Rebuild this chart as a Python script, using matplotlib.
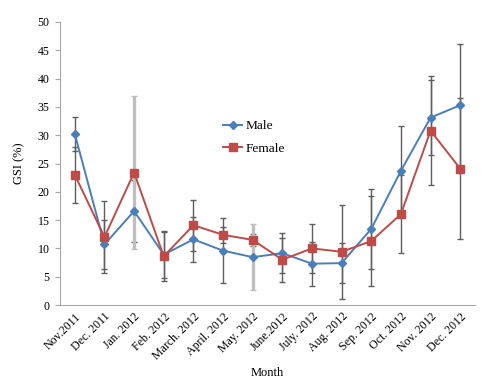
import matplotlib
matplotlib.use('Agg')
import matplotlib.pyplot as plt
import numpy as np

months = ['Nov.2011', 'Dec. 2011', 'Jan. 2012', 'Feb. 2012', 'March. 2012',
          'April. 2012', 'May. 2012', 'June.2012', 'July. 2012', 'Aug. 2012',
          'Sep. 2012', 'Oct. 2012', 'Nov. 2012', 'Dec. 2012']
male = [30.2, 10.7, 16.6, 8.9, 11.6, 9.6, 8.45, 9.15, 7.3, 7.4, 13.45, 23.7, 33.1, 35.3]
female = [23.0, 12.0, 23.4, 8.6, 14.1, 12.4, 11.5, 8.0, 10.0, 9.4, 11.3, 16.05, 30.8, 24.1]
male_err = [3.0, 4.3, 5.5, 4.1, 4.0, 5.8, 5.8, 3.55, 3.9, 3.6, 7.05, 7.9, 6.6, 10.9]
female_err = [5.0, 6.35, 13.5, 4.3, 4.5, 1.4, 1.0, 3.9, 4.35, 8.3, 7.9, 6.9, 9.6, 12.4]

# style: which error bars appear in light grey
male_light = {6}
female_light = {2}

DARK = '#5e5e5e'
LIGHT = '#bfbfbf'
BLUE = '#4a7ebb'
RED = '#be4b48'

plt.rcParams['font.family'] = ['Liberation Serif', 'DejaVu Serif']

fig = plt.figure(figsize=(4.84, 3.85), dpi=100)
ax = fig.add_axes([60 / 484, 1 - 305 / 385, 415 / 484, 283 / 385])

x = np.arange(len(months))

def draw_err(vals, errs, light_set):
    for i, (v, e) in enumerate(zip(vals, errs)):
        light = i in light_set
        ax.errorbar(x[i], v, yerr=e, fmt='none',
                    ecolor=LIGHT if light else DARK,
                    elinewidth=2.4 if light else 1.0,
                    capsize=2.4, capthick=1.0, zorder=1.5 if light else 1)

draw_err(male, male_err, male_light)
draw_err(female, female_err, female_light)

ax.plot(x, male, color=BLUE, lw=1.4, marker='D', markersize=4.0,
        markerfacecolor=BLUE, markeredgecolor=BLUE, label='Male', zorder=3)
ax.plot(x, female, color=RED, lw=1.4, marker='s', markersize=5.2,
        markerfacecolor=RED, markeredgecolor=RED, label='Female', zorder=3)

ax.set_xlim(-0.5, len(months) - 0.5)
ax.set_ylim(0, 50)
ax.set_yticks(np.arange(0, 51, 5))
ax.set_xticks(x)
ax.set_xticklabels(months, rotation=45, ha='right', rotation_mode='anchor', fontsize=8.6)
ax.tick_params(axis='y', labelsize=8.6, length=3.5, width=0.8, color='#a6a6a6', pad=4)
ax.tick_params(axis='x', length=0, pad=4)

for s in ['top', 'right']:
    ax.spines[s].set_visible(False)
for s in ['left', 'bottom']:
    ax.spines[s].set_color('#a6a6a6')
    ax.spines[s].set_linewidth(0.8)

ax.set_xlabel('Month', fontsize=9, labelpad=3.5)
ax.set_ylabel('GSI (%)', fontsize=9, labelpad=9)

leg = ax.legend(loc='upper left', bbox_to_anchor=(0.38, 0.672), frameon=False,
                fontsize=9.6, handlelength=1.45, handletextpad=0.25, labelspacing=0.75,
                borderaxespad=0)

fig.savefig('out.png', dpi=100)
